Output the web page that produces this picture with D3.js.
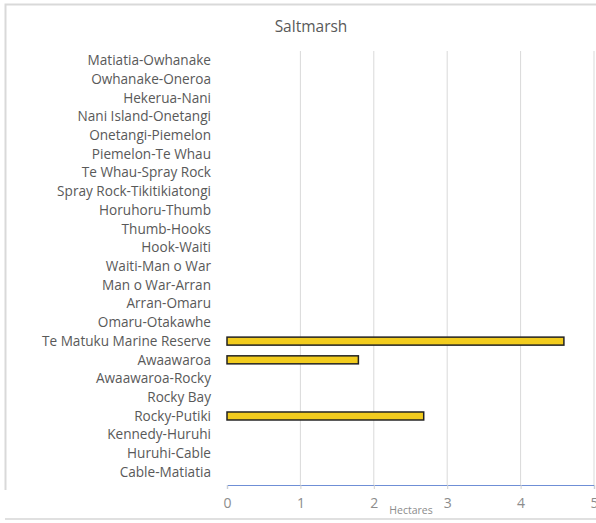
<!DOCTYPE html>
<html>
<head>
<meta charset="utf-8">
<script src="https://cdn.jsdelivr.net/npm/d3@7"></script>
<style>
  body { margin: 0; background: #fff; }
  svg { display: block; font-family: "Open Sans", sans-serif; }
</style>
</head>
<body>
<svg id="draw"></svg>
<script>
// categories top to bottom
var sites = ["Matiatia-Owhanake", "Owhanake-Oneroa", "Hekerua-Nani", "Nani Island-Onetangi",
  "Onetangi-Piemelon", "Piemelon-Te Whau", "Te Whau-Spray Rock", "Spray Rock-Tikitikiatongi",
  "Horuhoru-Thumb", "Thumb-Hooks", "Hook-Waiti", "Waiti-Man o War", "Man o War-Arran",
  "Arran-Omaru", "Omaru-Otakawhe", "Te Matuku Marine Reserve", "Awaawaroa", "Awaawaroa-Rocky",
  "Rocky Bay", "Rocky-Putiki", "Kennedy-Huruhi", "Huruhi-Cable", "Cable-Matiatia"];
var hectares = [0, 0, 0, 0, 0, 0, 0, 0, 0, 0, 0, 0, 0, 0, 0, 4.59, 1.79, 0, 0, 2.68, 0, 0, 0];
var xTicks = [0, 1, 2, 3, 4, 5];

var width = 596, height = 523;
var svg = d3.select("#draw").attr("width", width).attr("height", height);

// frame
svg.append("path")
  .attr("d", "M5.5,490 V4.5 H596")
  .attr("fill", "none").attr("stroke", "#d9d9d9").attr("stroke-width", 2);
svg.append("line")
  .attr("x1", 5).attr("x2", 596).attr("y1", 519).attr("y2", 519)
  .attr("stroke", "#e0e0e0").attr("stroke-width", 2);

var plotLeft = 227, plotRight = 594, plotTop = 51, plotBottom = 485;

var x = d3.scaleLinear().domain([0, 5]).range([plotLeft, plotRight]);
var y = d3.scaleBand().domain(sites).range([plotTop, plotBottom - 3.5]);

// gridlines
svg.append("g")
  .selectAll("line")
  .data(xTicks.slice(1))
  .enter().append("line")
  .attr("x1", d => x(d)).attr("x2", d => x(d))
  .attr("y1", plotTop).attr("y2", plotBottom)
  .attr("stroke", "#d9d9d9").attr("stroke-width", 1);

// x axis
var xAxis = svg.append("g")
  .attr("transform", "translate(0," + plotBottom + ")")
  .call(d3.axisBottom(x).tickValues(xTicks).tickFormat(d3.format("d")).tickSize(4).tickPadding(9));
xAxis.select(".domain").attr("stroke", "#6f8fd6").attr("stroke-width", 1.2);
xAxis.selectAll(".tick line").attr("stroke", "#d0d0d0");
xAxis.selectAll("text")
  .attr("fill", "#8c8c8c")
  .style("font-size", "14px")
  .style("font-family", "Open Sans, sans-serif");

// category labels
svg.append("g")
  .selectAll("text")
  .data(sites)
  .enter().append("text")
  .attr("x", 211)
  .attr("y", d => y(d) + y.bandwidth() / 2)
  .attr("dy", "0.35em")
  .attr("text-anchor", "end")
  .attr("fill", "#595959")
  .style("font-size", "13.6px")
  .text(d => d);

// bars
var barH = 8;
svg.append("g")
  .selectAll("rect")
  .data(sites.map((s, i) => ({ site: s, value: hectares[i] })).filter(d => d.value > 0))
  .enter().append("rect")
  .attr("x", x(0))
  .attr("y", d => y(d.site) + y.bandwidth() / 2 - barH / 2)
  .attr("width", d => x(d.value) - x(0))
  .attr("height", barH)
  .attr("fill", "#f2cc1e")
  .attr("stroke", "#222")
  .attr("stroke-width", 1.5);

// title
svg.append("text")
  .attr("x", 311).attr("y", 32)
  .attr("text-anchor", "middle")
  .attr("fill", "#595959")
  .style("font-size", "15.5px")
  .text("Saltmarsh");

// axis title
svg.append("text")
  .attr("x", 411).attr("y", 514)
  .attr("text-anchor", "middle")
  .attr("fill", "#8c8c8c")
  .style("font-size", "10.5px")
  .text("Hectares");
</script>
</body>
</html>
